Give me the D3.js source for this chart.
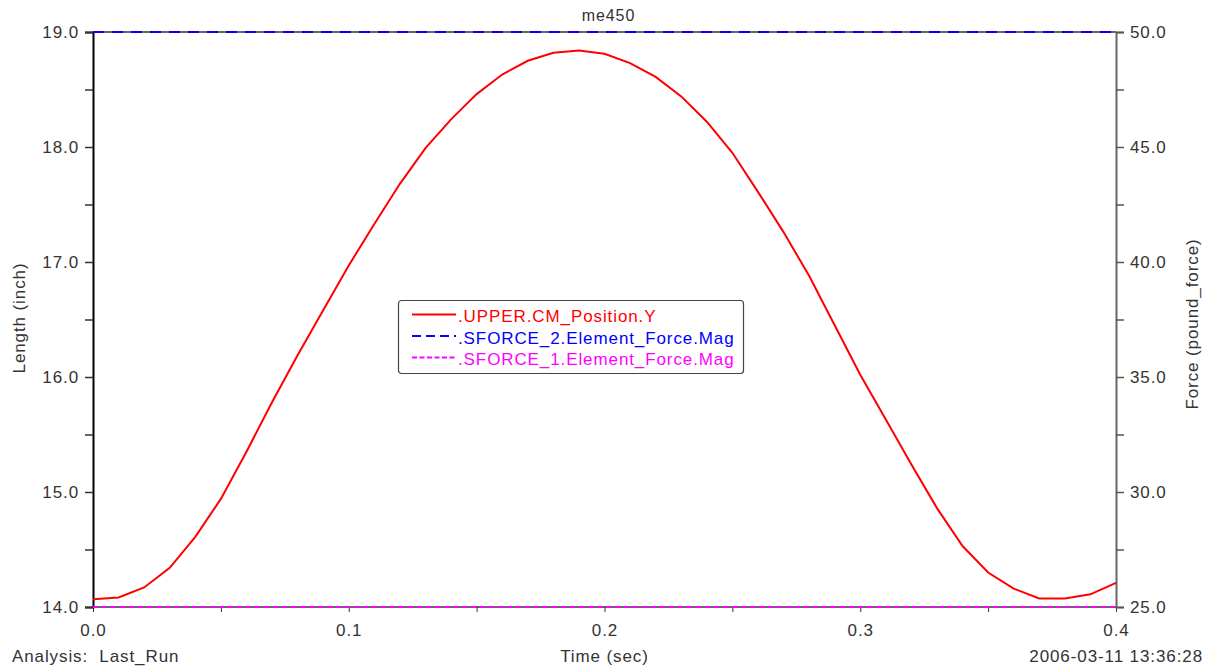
<!DOCTYPE html>
<html>
<head>
<meta charset="utf-8">
<script src="https://cdn.jsdelivr.net/npm/d3@7"></script>
<style>
  body { margin: 0; background: #fff; }
  svg { font-family: "Liberation Sans", Arial, sans-serif; }
  svg text { letter-spacing: 0.9px; }
</style>
</head>
<body>
<div id="chart"></div>
<script>
// time samples (sec)
const times = [0.00, 0.01, 0.02, 0.03, 0.04, 0.05, 0.06, 0.07, 0.08, 0.09,
  0.10, 0.11, 0.12, 0.13, 0.14, 0.15, 0.16, 0.17, 0.18, 0.19,
  0.20, 0.21, 0.22, 0.23, 0.24, 0.25, 0.26, 0.27, 0.28, 0.29,
  0.30, 0.31, 0.32, 0.33, 0.34, 0.35, 0.36, 0.37, 0.38, 0.39, 0.40];

// .UPPER.CM_Position.Y (inch)
const upperY = [14.067, 14.083, 14.17, 14.34, 14.61, 14.94, 15.35, 15.78, 16.19, 16.58,
  16.97, 17.33, 17.68, 17.99, 18.24, 18.46, 18.63, 18.75, 18.82, 18.84,
  18.81, 18.73, 18.61, 18.44, 18.22, 17.95, 17.61, 17.26, 16.88, 16.45,
  16.02, 15.63, 15.24, 14.86, 14.53, 14.30, 14.16, 14.075, 14.075, 14.11, 14.21];

// force series (pound_force), constant over the run
const sforce2 = times.map(() => 50.0);
const sforce1 = times.map(() => 25.0);

const xTicks = [0.0, 0.1, 0.2, 0.3, 0.4];
const leftTicks = [14, 15, 16, 17, 18, 19];
const rightTicks = [25, 30, 35, 40, 45, 50];

const legendItems = [
  { name: '.UPPER.CM_Position.Y', color: '#ff0000', dash: null },
  { name: '.SFORCE_2.Element_Force.Mag', color: '#0000ff', dash: '9,5' },
  { name: '.SFORCE_1.Element_Force.Mag', color: '#ff00ff', dash: '5,2.5' },
];

const width = 1209, height = 669;
const margin = { top: 32, right: 93, bottom: 62, left: 93 };
const plotW = width - margin.left - margin.right;
const plotH = height - margin.top - margin.bottom;

const svg = d3.select('#chart').append('svg')
  .attr('width', width)
  .attr('height', height);

const chart = svg.append('g')
  .attr('transform', `translate(${margin.left}, ${margin.top})`);

const xScale = d3.scaleLinear().domain([0, 0.4]).range([0, plotW]);
const yLeft = d3.scaleLinear().domain([14, 19]).range([plotH, 0]);
const yRight = d3.scaleLinear().domain([25, 50]).range([plotH, 0]);

// frame: top and bottom gray
chart.append('line').attr('x1', 0).attr('x2', plotW).attr('y1', 0).attr('y2', 0)
  .attr('stroke', '#666').attr('stroke-width', 2);
chart.append('line').attr('x1', 0).attr('x2', plotW).attr('y1', plotH).attr('y2', plotH)
  .attr('stroke', '#666').attr('stroke-width', 2);

// axes
const fmt = d3.format('.1f');
const xAxis = d3.axisBottom(xScale)
  .tickValues(d3.range(0, 0.4001, 0.05))
  .tickSize(5)
  .tickPadding(12)
  .tickFormat(d => xTicks.some(t => Math.abs(t - d) < 1e-9) ? fmt(d) : '');
const leftAxis = d3.axisLeft(yLeft)
  .tickValues(d3.range(14, 19.001, 0.5))
  .tickSize(8)
  .tickPadding(6)
  .tickFormat(d => leftTicks.includes(d) ? fmt(d) : '');
const rightAxis = d3.axisRight(yRight)
  .tickValues(d3.range(25, 50.001, 2.5))
  .tickSize(8)
  .tickPadding(6)
  .tickFormat(d => rightTicks.includes(d) ? fmt(d) : '');

const gx = chart.append('g').attr('transform', `translate(0, ${plotH})`).call(xAxis);
const gl = chart.append('g').call(leftAxis);
const gr = chart.append('g').attr('transform', `translate(${plotW}, 0)`).call(rightAxis);

gx.select('.domain').remove();
gl.select('.domain').attr('stroke', '#000').attr('stroke-width', 2);
gr.select('.domain').attr('stroke', '#666').attr('stroke-width', 2);
gx.selectAll('.tick line').attr('stroke', '#333');
gl.selectAll('.tick line').attr('stroke', '#333').attr('stroke-width', 1.5);
gr.selectAll('.tick line').attr('stroke', '#555').attr('stroke-width', 1.5);
[gx, gl, gr].forEach(g => g.selectAll('text')
  .attr('fill', '#333').style('font-size', '17px'));

// series
const line = (scale) => d3.line()
  .x((d, i) => xScale(times[i]))
  .y(d => scale(d));

chart.append('path')
  .datum(sforce2)
  .attr('d', line(yRight))
  .attr('fill', 'none')
  .attr('stroke', '#0000ff')
  .attr('stroke-width', 2)
  .attr('stroke-dasharray', '11,8');

chart.append('path')
  .datum(sforce1)
  .attr('d', line(yRight))
  .attr('fill', 'none')
  .attr('stroke', '#ff00ff')
  .attr('stroke-width', 2)
  .attr('stroke-dasharray', '5,4');

chart.append('path')
  .datum(upperY)
  .attr('d', line(yLeft))
  .attr('fill', 'none')
  .attr('stroke', '#ff0000')
  .attr('stroke-width', 2);

// titles
svg.append('text')
  .attr('x', margin.left + plotW / 2 + 4).attr('y', 21)
  .attr('text-anchor', 'middle')
  .attr('fill', '#333').style('font-size', '16px')
  .text('me450');

svg.append('text')
  .attr('transform', `translate(25, 318) rotate(-90)`)
  .attr('text-anchor', 'middle')
  .attr('fill', '#333').style('font-size', '17px')
  .text('Length (inch)');

svg.append('text')
  .attr('transform', `translate(1198, 324) rotate(-90)`)
  .attr('text-anchor', 'middle')
  .attr('fill', '#333').style('font-size', '17px')
  .text('Force (pound_force)');

svg.append('text')
  .attr('x', margin.left + plotW / 2).attr('y', 662)
  .attr('text-anchor', 'middle')
  .attr('fill', '#333').style('font-size', '17px')
  .text('Time (sec)');

svg.append('text')
  .attr('x', 12).attr('y', 662)
  .attr('fill', '#333').style('font-size', '17px')
  .attr('xml:space', 'preserve')
  .text('Analysis:  Last_Run');

svg.append('text')
  .attr('x', 1203).attr('y', 662)
  .attr('text-anchor', 'end')
  .attr('fill', '#333').style('font-size', '17px')
  .text('2006-03-11 13:36:28');

// legend
const legend = svg.append('g').attr('transform', 'translate(398, 300)');
legend.append('rect')
  .attr('x', 0.5).attr('y', 0.5)
  .attr('width', 345).attr('height', 73)
  .attr('rx', 3)
  .attr('fill', '#fff')
  .attr('stroke', '#444')
  .attr('stroke-width', 1.2);

const rows = legend.selectAll('.row')
  .data(legendItems)
  .enter()
  .append('g')
  .attr('transform', (d, i) => `translate(0, ${14.5 + i * 21.5})`);

rows.append('line')
  .attr('x1', 14).attr('x2', 58)
  .attr('stroke', d => d.color)
  .attr('stroke-width', 2)
  .attr('stroke-dasharray', d => d.dash);

rows.append('text')
  .attr('x', 60).attr('y', 7.5)
  .attr('fill', d => d.color)
  .style('font-size', '17px')
  .text(d => d.name);
</script>
</body>
</html>
